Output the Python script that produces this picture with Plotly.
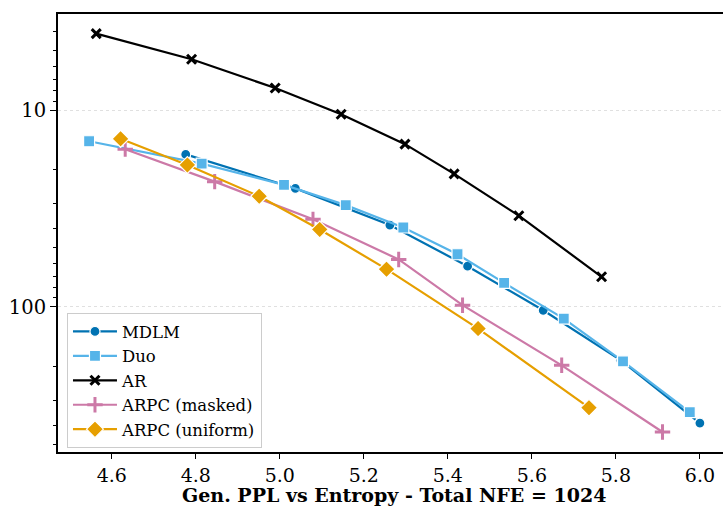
import plotly.graph_objects as go

# ---- data ----
mdlm_x = [4.776, 5.037, 5.262, 5.447, 5.627, 5.812, 6.000]
mdlm_y = [16.8, 25.0, 38.4, 62.1, 104, 187, 389]

duo_x = [4.546, 4.814, 5.010, 5.157, 5.294, 5.423, 5.534, 5.676, 5.817, 5.976]
duo_y = [14.4, 18.7, 24.0, 30.4, 39.5, 54.0, 75.5, 114.6, 189, 342]

ar_x = [4.563, 4.790, 4.989, 5.146, 5.298, 5.415, 5.569, 5.766]
ar_y = [4.09, 5.52, 7.73, 10.5, 14.9, 21.1, 34.4, 70.3]

masked_x = [4.632, 4.845, 5.079, 5.283, 5.435, 5.671, 5.911]
masked_y = [15.8, 23.1, 35.9, 57.4, 98, 198, 432]

uniform_x = [4.621, 4.780, 4.951, 5.095, 5.254, 5.472, 5.736]
uniform_y = [14.0, 19.0, 27.4, 40.4, 64.3, 128.8, 325]

x_ticks = [4.6, 4.8, 5.0, 5.2, 5.4, 5.6, 5.8, 6.0]
x_ticklabels = ["4.6", "4.8", "5.0", "5.2", "5.4", "5.6", "5.8", "6.0"]
y_ticks = [10, 100]
y_ticklabels = ["10", "100"]
y_minor = [4, 5, 6, 7, 8, 9, 20, 30, 40, 50, 60, 70, 80, 90, 200, 300, 400, 500]
x_title = "Gen. PPL vs Entropy - Total NFE = 1024"

FONT = "DejaVu Serif"

series = [
    ("MDLM", mdlm_x, mdlm_y, "#0072B2", "circle", 10),
    ("Duo", duo_x, duo_y, "#56B4E9", "square", 11),
    ("AR", ar_x, ar_y, "#000000", "x-thin", 9),
    ("ARPC (masked)", masked_x, masked_y, "#CC79A7", "cross-thin", 11),
    ("ARPC (uniform)", uniform_x, uniform_y, "#E69F00", "diamond", 13),
]

fig = go.Figure()
for name, xs, ys, color, sym, size in series:
    thin = sym.endswith("-thin")
    fig.add_trace(go.Scatter(
        x=xs, y=ys, name=name, mode="lines+markers",
        line=dict(color=color, width=2.2),
        marker=dict(symbol=sym, size=size, color=color,
                    line=dict(color=color if thin else "white",
                              width=3 if thin else 1.2)),
    ))

fig.update_layout(
    width=723, height=508,
    margin=dict(l=58, r=0, t=14, b=56),
    paper_bgcolor="white", plot_bgcolor="white",
    font=dict(family=FONT, size=17, color="black"),
    showlegend=True,
    legend=dict(
        x=0.0135, y=0.317, xanchor="left", yanchor="top",
        bgcolor="rgba(255,255,255,0.85)", bordercolor="#cccccc", borderwidth=1,
        font=dict(family=FONT, size=16.5), itemwidth=44,
        tracegroupgap=0,
    ),
    annotations=[dict(
        text="<b>" + x_title + "</b>", xref="paper", yref="paper",
        x=0.505, y=-56 / 438, xanchor="center", yanchor="bottom", yshift=1,
        showarrow=False, font=dict(family=FONT, size=19), borderpad=0,
    )],
)

fig.update_xaxes(
    range=[4.472, 6.055],
    tickvals=x_ticks, ticktext=x_ticklabels,
    ticks="outside", ticklen=5, tickwidth=1.3, tickcolor="black",
    showline=True, linecolor="black", linewidth=2, mirror=True,
    showgrid=False, zeroline=False,
    tickfont=dict(family=FONT, size=19),
)

fig.update_yaxes(
    type="log", range=[2.737, 0.512],
    tickvals=y_ticks, ticktext=y_ticklabels,
    ticks="outside", ticklen=6, tickwidth=1.3, tickcolor="black",
    showline=True, linecolor="black", linewidth=2, mirror=False,
    showgrid=True, gridcolor="#e0e0e0", griddash="dot", gridwidth=1,
    zeroline=False,
    tickfont=dict(family=FONT, size=19.5),
    minor=dict(tickvals=y_minor, ticks="outside", ticklen=3.5, tickwidth=1,
               tickcolor="black", showgrid=False),
)

fig.write_html("out.html")
